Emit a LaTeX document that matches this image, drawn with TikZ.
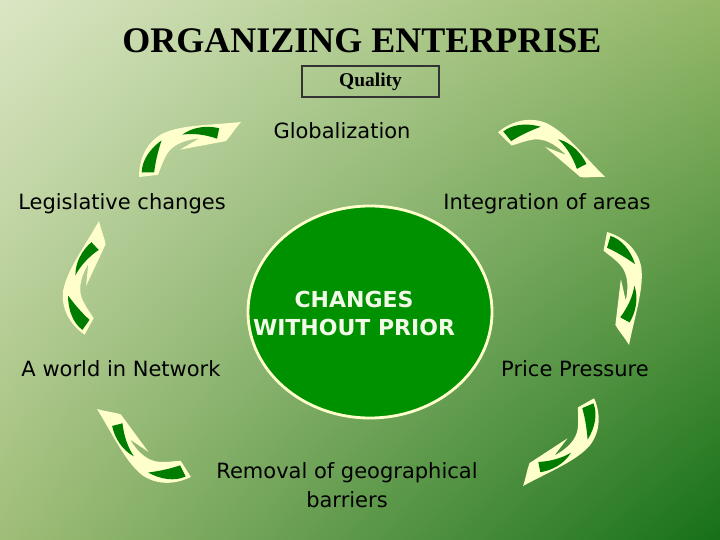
\documentclass[tikz,border=0pt]{standalone}
\usepackage{fontspec}
\setmainfont{DejaVu Sans}
\newfontfamily\titlefont{Liberation Serif}
\usetikzlibrary{shapes.geometric,shadings}
\definecolor{bgUL}{RGB}{218,230,196}
\definecolor{bgUR}{RGB}{148,184,104}
\definecolor{bgLL}{RGB}{160,190,120}
\definecolor{bgLR}{RGB}{22,112,24}
\definecolor{cream}{RGB}{255,255,204}
\definecolor{leaf}{RGB}{0,125,0}
\definecolor{coregreen}{RGB}{0,145,0}
\definecolor{coretext}{RGB}{240,250,230}
\newcommand\swoosh[4]{%
\begin{scope}[x={({(#3-#1)*1pt},{(#2-#4)*1pt})}, y={({(#2-#4)*1pt},{(#1-#3)*1pt})}, shift={({#1*1pt},{-#2*1pt})}]
\fill[cream] (-0.04,0.02) .. controls (0.04,-0.14) and (0.18,-0.23) .. (0.33,-0.23) .. controls (0.52,-0.22) and (0.72,-0.11) .. (1,0) .. controls (0.92,0.03) and (0.86,0.07) .. (0.8,0.09) -- (0.4,-0.03) -- (0.6,-0.04) .. controls (0.45,-0.1) and (0.35,-0.09) .. (0.28,-0.05) .. controls (0.2,0) and (0.16,0.05) .. (0.12,0.08) -- cycle;
\fill[leaf] (0,-0.005) .. controls (0.05,-0.1) and (0.16,-0.16) .. (0.29,-0.18) .. controls (0.21,-0.1) and (0.15,-0.03) .. (0.1,0.045) -- cycle;
\fill[leaf] (0.48,-0.14) .. controls (0.6,-0.16) and (0.72,-0.11) .. (0.8,-0.04) -- (0.74,0.035) .. controls (0.66,-0.05) and (0.57,-0.11) .. (0.48,-0.14) -- cycle;
\end{scope}}
\begin{document}
\begin{tikzpicture}[x=1pt,y=-1pt,
  lbl/.style={inner sep=0pt, font=\fontsize{21}{29}\selectfont, align=center},
  titlestyle/.style={inner sep=0pt, font=\titlefont\bfseries\fontsize{36}{40}\selectfont},
  qbox/.style={draw=black!80, line width=1.1pt, minimum width=137pt, minimum height=31pt, inner sep=0pt, font=\titlefont\bfseries\fontsize{19.5}{22}\selectfont},
  core/.style={ellipse, fill=coregreen, draw=cream, line width=2.8pt, minimum width=244pt, minimum height=212pt, inner sep=0pt},
  coretxt/.style={inner sep=0pt, text=coretext, font=\bfseries\fontsize{22}{28}\selectfont, align=center}]
\shade[upper left=bgUL, upper right=bgUR, lower left=bgLL, lower right=bgLR] (0,0) rectangle (720,540);
\useasboundingbox (0,0) rectangle (720,540);
\node[titlestyle] (title) at (362,41) {ORGANIZING ENTERPRISE};
\node[qbox] (quality) at (370.5,81.5) {Quality};
\node[core] (core) at (370,312) {};
\node[coretxt] (coretitle) at (354,313) {CHANGES\\WITHOUT PRIOR};
\node[lbl] (glob) at (342,131) {Globalization};
\node[lbl] (legis) at (122,204) {Legislative changes};
\node[lbl] (integ) at (547,204) {Integration of areas};
\node[lbl] (world) at (121,369) {A world in Network};
\node[lbl] (price) at (575,369) {Price Pressure};
\node[lbl] (removal) at (347,485) {Removal of geographical\\barriers};
\swoosh{142}{173}{241}{122}
\swoosh{503}{132}{605}{177}
\swoosh{610}{236}{629}{345}
\swoosh{593}{403}{523}{486}
\swoosh{186}{476}{97}{409}
\swoosh{83}{330}{99}{221}
\end{tikzpicture}
\end{document}
